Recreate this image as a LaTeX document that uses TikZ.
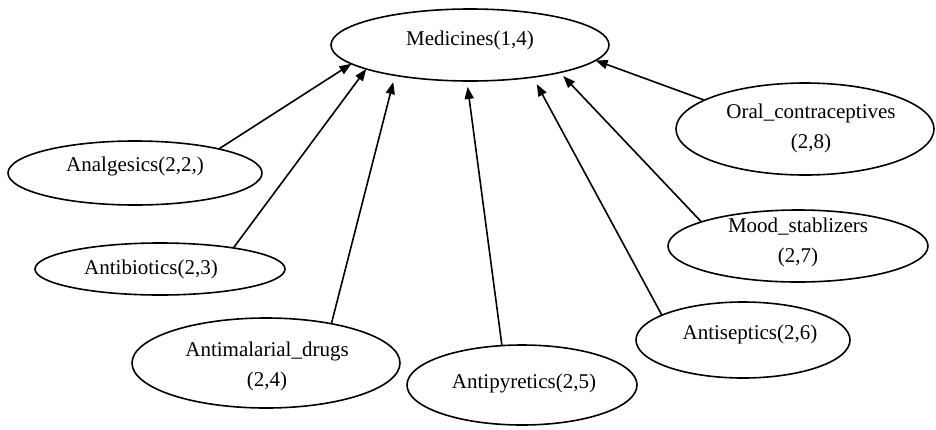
\documentclass[tikz,border=0pt]{standalone}
\usepackage{fontspec}
\setmainfont{Liberation Serif}
\usetikzlibrary{shapes.geometric,arrows.meta,calc}
\tikzset{
  ell/.style={draw=black, ellipse, line width=1.6pt, inner sep=0pt, outer sep=0pt},
  lbl/.style={inner sep=0pt, align=center, font=\fontsize{21}{30}\selectfont},
  conn/.style={draw=black, line width=1.6pt, -{Triangle[length=12pt,width=9pt]}}
}
\begin{document}
\begin{tikzpicture}[x=1pt, y=-1pt]
\useasboundingbox (0,0) rectangle (936,429);
% ellipses
\node[ell, minimum width=278pt, minimum height=72pt] (med) at (470,45) {};
\node[ell, minimum width=254pt, minimum height=64pt] (anal) at (135,173) {};
\node[ell, minimum width=250pt, minimum height=52pt] (antib) at (160,269) {};
\node[ell, minimum width=268pt, minimum height=90pt] (antim) at (266,363) {};
\node[ell, minimum width=230pt, minimum height=80pt] (antip) at (522,385) {};
\node[ell, minimum width=214pt, minimum height=76pt] (antis) at (743,340) {};
\node[ell, minimum width=260pt, minimum height=72pt] (mood) at (798,246) {};
\node[ell, minimum width=258pt, minimum height=92pt] (oral) at (805,129) {};
% labels
\node[lbl] (medT) at ($(med)+(0,-5)$) {Medicines(1,4)};
\node[lbl] (analT) at ($(anal)+(0,-7)$) {Analgesics(2,2,)};
\node[lbl] (antibT) at ($(antib)+(-9,0)$) {Antibiotics(2,3)};
\node[lbl] (antimT) at ($(antim)+(1,3)$) {Antimalarial\_drugs\\(2,4)};
\node[lbl] (antipT) at ($(antip)+(2,-2)$) {Antipyretics(2,5)};
\node[lbl] (antisT) at ($(antis)+(7,-6)$) {Antiseptics(2,6)};
\node[lbl] (moodT) at ($(mood)+(0,-4)$) {Mood\_stablizers\\(2,7)};
\node[lbl] (oralT) at ($(oral)+(6,-1)$) {Oral\_contraceptives\\(2,8)};
% connectors
\draw[conn] (anal.16.5) -- (med.189.4);
\draw[conn] (antib.16.6) -- (med.193.1);
\draw[conn, shorten >=7pt] (antim.31.6) -- (med.202.1);
\draw[conn, shorten >=6pt] (antip.117.1) -- (med.265.2);
\draw[conn, shorten >=8pt] (antis.163.7) -- (med.333.1);
\draw[conn, shorten >=5pt] (mood.166.5) -- (med.343.9);
\draw[conn] (oral.164.7) -- (med.353.4);
\end{tikzpicture}
\end{document}
